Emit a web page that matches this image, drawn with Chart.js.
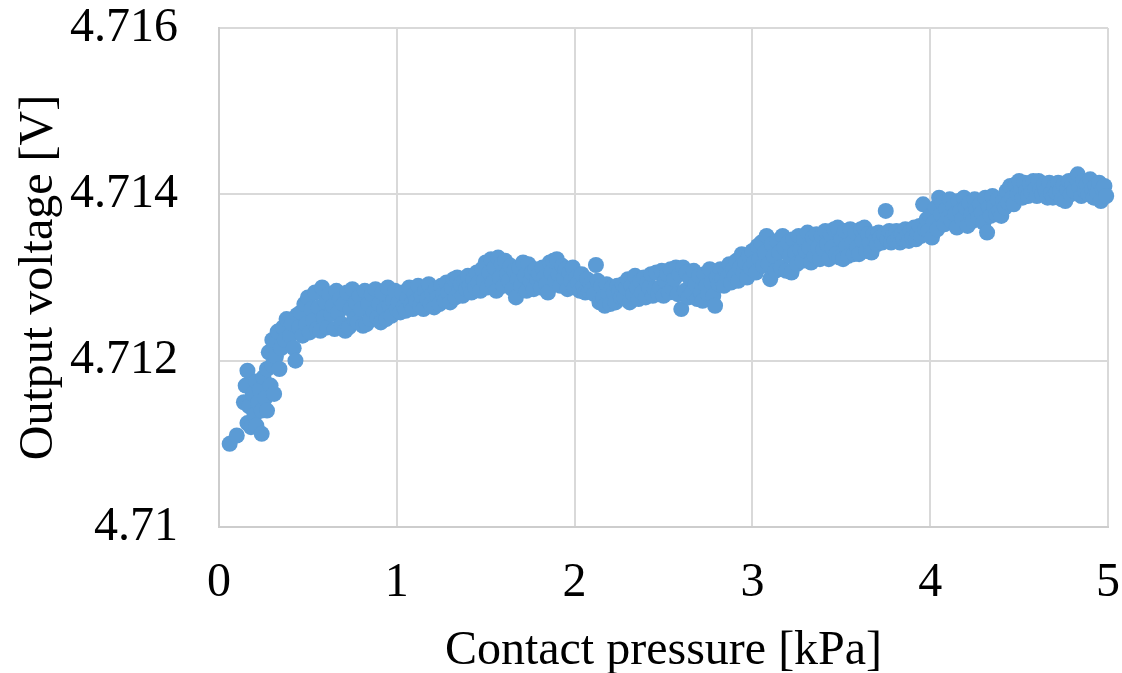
<!DOCTYPE html>
<html>
<head>
<meta charset="utf-8">
<script src="https://cdn.jsdelivr.net/npm/chart.js@4.4.0/dist/chart.umd.min.js"></script>
<style>
  html, body { margin: 0; padding: 0; background: #ffffff; }
  #wrap { width: 1122px; height: 673px; }
</style>
</head>
<body>
<div id="wrap"><canvas id="chart" width="1122" height="673"></canvas></div>
<script>
// Contact pressure [kPa] for each sample
const pressure = [
  0.06,0.10,0.14,0.15,0.16,0.16,0.17,0.18,0.19,0.20,
  0.21,0.21,0.22,0.23,0.24,0.24,0.25,0.26,0.27,0.27,
  0.28,0.29,0.30,0.30,0.31,0.32,0.33,0.34,0.35,0.36,
  0.37,0.38,0.40,0.41,0.42,0.43,0.44,0.45,0.46,0.47,
  0.48,0.49,0.50,0.51,0.52,0.53,0.54,0.55,0.56,0.57,
  0.58,0.59,0.60,0.61,0.62,0.63,0.64,0.65,0.66,0.67,
  0.68,0.69,0.70,0.71,0.72,0.73,0.74,0.75,0.76,0.77,
  0.78,0.79,0.80,0.81,0.82,0.83,0.84,0.85,0.86,0.87,
  0.88,0.89,0.90,0.91,0.92,0.93,0.94,0.95,0.96,0.97,
  0.98,0.99,1.00,1.01,1.02,1.03,1.04,1.05,1.06,1.07,
  1.08,1.09,1.10,1.11,1.12,1.13,1.14,1.15,1.16,1.17,
  1.18,1.19,1.20,1.21,1.22,1.23,1.24,1.25,1.26,1.27,
  1.28,1.29,1.30,1.31,1.32,1.33,1.34,1.35,1.36,1.37,
  1.38,1.39,1.40,1.41,1.42,1.43,1.44,1.45,1.46,1.47,
  1.48,1.49,1.50,1.51,1.52,1.53,1.54,1.55,1.56,1.57,
  1.58,1.59,1.60,1.61,1.62,1.63,1.64,1.65,1.66,1.67,
  1.68,1.69,1.70,1.71,1.72,1.73,1.74,1.75,1.76,1.77,
  1.78,1.79,1.80,1.81,1.82,1.83,1.84,1.85,1.86,1.87,
  1.88,1.89,1.90,1.91,1.92,1.93,1.94,1.95,1.96,1.97,
  1.98,1.99,2.00,2.01,2.02,2.03,2.04,2.05,2.06,2.07,
  2.08,2.09,2.10,2.11,2.12,2.13,2.14,2.15,2.16,2.17,
  2.18,2.19,2.20,2.21,2.22,2.23,2.24,2.25,2.26,2.27,
  2.28,2.29,2.30,2.31,2.32,2.33,2.34,2.35,2.36,2.37,
  2.38,2.39,2.40,2.41,2.42,2.43,2.44,2.45,2.46,2.47,
  2.48,2.49,2.50,2.51,2.52,2.53,2.54,2.55,2.56,2.57,
  2.58,2.59,2.60,2.61,2.62,2.63,2.64,2.65,2.66,2.67,
  2.68,2.69,2.70,2.71,2.72,2.73,2.74,2.75,2.76,2.77,
  2.78,2.79,2.80,2.81,2.82,2.83,2.84,2.85,2.86,2.87,
  2.88,2.89,2.90,2.91,2.92,2.93,2.94,2.95,2.96,2.97,
  2.98,2.99,3.00,3.01,3.02,3.03,3.04,3.05,3.06,3.07,
  3.08,3.09,3.10,3.11,3.12,3.13,3.14,3.15,3.16,3.17,
  3.18,3.19,3.20,3.21,3.22,3.23,3.24,3.25,3.26,3.27,
  3.28,3.29,3.30,3.31,3.32,3.33,3.34,3.35,3.36,3.37,
  3.38,3.39,3.40,3.41,3.42,3.43,3.44,3.45,3.46,3.47,
  3.48,3.49,3.50,3.51,3.52,3.53,3.54,3.55,3.56,3.57,
  3.58,3.59,3.60,3.61,3.62,3.63,3.64,3.65,3.66,3.67,
  3.68,3.69,3.70,3.71,3.72,3.73,3.74,3.75,3.76,3.77,
  3.78,3.79,3.80,3.81,3.82,3.83,3.84,3.85,3.86,3.87,
  3.88,3.89,3.90,3.91,3.92,3.93,3.94,3.95,3.96,3.97,
  3.98,3.99,4.00,4.01,4.02,4.03,4.04,4.05,4.06,4.07,
  4.08,4.09,4.10,4.11,4.12,4.13,4.14,4.15,4.16,4.17,
  4.18,4.19,4.20,4.21,4.22,4.23,4.24,4.25,4.26,4.27,
  4.28,4.29,4.30,4.31,4.32,4.33,4.34,4.35,4.36,4.37,
  4.38,4.39,4.40,4.41,4.42,4.43,4.44,4.45,4.46,4.47,
  4.48,4.49,4.50,4.51,4.52,4.53,4.54,4.55,4.56,4.57,
  4.58,4.59,4.60,4.61,4.62,4.63,4.64,4.65,4.66,4.67,
  4.68,4.69,4.70,4.71,4.72,4.73,4.74,4.75,4.76,4.77,
  4.78,4.79,4.80,4.81,4.82,4.83,4.84,4.85,4.86,4.87,
  4.88,4.89,4.90,4.91,4.92,4.93,4.94,4.95,4.96,4.97,
  4.98,4.99
];

// Output voltage [V] measured at each pressure above
const voltage = [
  4.71100,4.71110,4.71150,4.71170,4.71125,4.71188,4.71145,4.71120,4.71160,4.71135,
  4.71122,4.71175,4.71150,4.71165,4.71112,4.71140,4.71180,4.71155,4.71190,4.71140,
  4.71210,4.71170,4.71195,4.71225,4.71160,4.71205,4.71235,4.71190,4.71215,4.71240,
  4.71225,4.71250,4.71230,4.71245,4.71215,4.71200,4.71255,4.71240,4.71258,4.71230,
  4.71268,4.71244,4.71276,4.71234,4.71262,4.71248,4.71282,4.71238,4.71264,4.71236,
  4.71288,4.71252,4.71270,4.71240,4.71280,4.71256,4.71266,4.71238,4.71284,4.71258,
  4.71274,4.71244,4.71268,4.71236,4.71282,4.71240,4.71262,4.71286,4.71250,4.71270,
  4.71246,4.71278,4.71262,4.71242,4.71284,4.71244,4.71268,4.71250,4.71280,4.71258,
  4.71286,4.71252,4.71268,4.71246,4.71282,4.71262,4.71250,4.71288,4.71266,4.71254,
  4.71272,4.71284,4.71262,4.71270,4.71258,4.71282,4.71265,4.71260,4.71276,4.71288,
  4.71268,4.71262,4.71280,4.71272,4.71290,4.71266,4.71278,4.71262,4.71284,4.71274,
  4.71292,4.71268,4.71280,4.71264,4.71286,4.71276,4.71268,4.71290,4.71280,4.71272,
  4.71294,4.71282,4.71270,4.71288,4.71298,4.71276,4.71300,4.71284,4.71292,4.71278,
  4.71296,4.71286,4.71302,4.71290,4.71282,4.71298,4.71288,4.71306,4.71294,4.71284,
  4.71310,4.71296,4.71318,4.71288,4.71306,4.71322,4.71294,4.71312,4.71284,4.71324,
  4.71300,4.71316,4.71290,4.71320,4.71304,4.71296,4.71314,4.71286,4.71308,4.71276,
  4.71298,4.71312,4.71290,4.71318,4.71302,4.71284,4.71316,4.71296,4.71306,4.71286,
  4.71310,4.71298,4.71304,4.71288,4.71312,4.71300,4.71292,4.71282,4.71318,4.71306,
  4.71320,4.71296,4.71322,4.71304,4.71290,4.71314,4.71300,4.71310,4.71286,4.71306,
  4.71296,4.71312,4.71288,4.71300,4.71294,4.71284,4.71304,4.71290,4.71282,4.71298,
  4.71284,4.71292,4.71286,4.71280,4.71315,4.71296,4.71270,4.71290,4.71276,4.71266,
  4.71292,4.71280,4.71268,4.71288,4.71282,4.71270,4.71290,4.71284,4.71276,4.71292,
  4.71276,4.71288,4.71298,4.71270,4.71290,4.71280,4.71302,4.71288,4.71274,4.71296,
  4.71282,4.71300,4.71276,4.71294,4.71288,4.71304,4.71278,4.71286,4.71306,4.71280,
  4.71288,4.71308,4.71278,4.71296,4.71304,4.71282,4.71310,4.71286,4.71298,4.71312,
  4.71280,4.71304,4.71262,4.71312,4.71284,4.71306,4.71276,4.71298,4.71282,4.71308,
  4.71292,4.71274,4.71302,4.71282,4.71272,4.71304,4.71290,4.71280,4.71310,4.71294,
  4.71278,4.71266,4.71300,4.71292,4.71310,4.71298,4.71290,4.71308,4.71300,4.71316,
  4.71294,4.71310,4.71302,4.71320,4.71296,4.71312,4.71328,4.71306,4.71318,4.71300,
  4.71326,4.71312,4.71332,4.71318,4.71306,4.71338,4.71322,4.71342,4.71314,4.71330,
  4.71350,4.71316,4.71298,4.71340,4.71326,4.71308,4.71344,4.71330,4.71312,4.71350,
  4.71336,4.71308,4.71342,4.71326,4.71306,4.71346,4.71330,4.71316,4.71350,4.71334,
  4.71320,4.71346,4.71332,4.71354,4.71336,4.71318,4.71348,4.71326,4.71352,4.71336,
  4.71322,4.71350,4.71334,4.71356,4.71340,4.71322,4.71352,4.71336,4.71358,4.71328,
  4.71360,4.71324,4.71346,4.71322,4.71356,4.71338,4.71326,4.71358,4.71342,4.71328,
  4.71354,4.71336,4.71328,4.71358,4.71344,4.71360,4.71332,4.71352,4.71342,4.71330,
  4.71352,4.71344,4.71340,4.71354,4.71348,4.71342,4.71352,4.71380,4.71346,4.71356,
  4.71342,4.71350,4.71344,4.71356,4.71348,4.71342,4.71352,4.71346,4.71358,4.71350,
  4.71344,4.71356,4.71348,4.71360,4.71346,4.71354,4.71362,4.71350,4.71388,4.71358,
  4.71370,4.71356,4.71374,4.71348,4.71366,4.71384,4.71358,4.71396,4.71376,4.71390,
  4.71364,4.71382,4.71372,4.71394,4.71368,4.71386,4.71376,4.71360,4.71392,4.71380,
  4.71370,4.71396,4.71384,4.71362,4.71390,4.71376,4.71368,4.71394,4.71382,4.71372,
  4.71388,4.71378,4.71366,4.71396,4.71354,4.71384,4.71374,4.71398,4.71386,4.71376,
  4.71394,4.71380,4.71374,4.71392,4.71384,4.71404,4.71390,4.71410,4.71396,4.71388,
  4.71412,4.71400,4.71416,4.71404,4.71396,4.71414,4.71404,4.71398,4.71412,4.71402,
  4.71416,4.71406,4.71398,4.71416,4.71406,4.71400,4.71412,4.71404,4.71396,4.71414,
  4.71402,4.71396,4.71410,4.71402,4.71414,4.71404,4.71394,4.71412,4.71392,4.71406,
  4.71416,4.71400,4.71412,4.71404,4.71420,4.71424,4.71408,4.71398,4.71416,4.71404,
  4.71412,4.71400,4.71418,4.71406,4.71396,4.71410,4.71402,4.71414,4.71392,4.71406,
  4.71410,4.71398
];

// Axis ticks
const xTickValues = [0, 1, 2, 3, 4, 5];
const xTickLabels = ['0', '1', '2', '3', '4', '5'];
const yTickValues = [4.710, 4.712, 4.714, 4.716];
const yTickLabels = ['4.71', '4.712', '4.714', '4.716'];

const points = pressure.map((p, i) => ({ x: p, y: voltage[i] }));

const serif = 'Liberation Serif, "Times New Roman", serif';
const gridStyle = { color: '#d9d9d9', lineWidth: 2, drawTicks: false };
const borderStyle = { color: '#cdcdcd', width: 2 };

new Chart(document.getElementById('chart').getContext('2d'), {
  type: 'scatter',
  data: {
    datasets: [{
      data: points,
      backgroundColor: '#5b9bd5',
      borderColor: '#5b9bd5',
      borderWidth: 0,
      pointRadius: 8,
      pointHoverRadius: 8,
      clip: false
    }]
  },
  options: {
    responsive: false,
    animation: false,
    devicePixelRatio: 1,
    layout: { padding: { top: 28, right: 14, bottom: 0, left: 0 } },
    plugins: { legend: { display: false }, tooltip: { enabled: false } },
    scales: {
      x: {
        type: 'linear',
        min: 0,
        max: 5,
        afterBuildTicks: s => { s.ticks = xTickValues.map(v => ({ value: v })); },
        afterFit: s => {
          s.height = 146;
          s.paddingLeft = 0;
          s.paddingRight = 0;
        },
        grid: gridStyle,
        border: borderStyle,
        ticks: {
          padding: 28,
          color: '#000',
          font: { family: serif, size: 48 },
          maxRotation: 0,
          callback: (v, i) => xTickLabels[i]
        },
        title: {
          display: true,
          text: 'Contact pressure [kPa]',
          color: '#000',
          font: { family: serif, size: 48, lineHeight: 0.9 },
          padding: { top: 0, bottom: 0 }
        }
      },
      y: {
        type: 'linear',
        min: 4.710,
        max: 4.716,
        afterBuildTicks: s => { s.ticks = yTickValues.map(v => ({ value: v })); },
        afterFit: s => {
          s.width = 219;
          s.paddingTop = 0;
          s.paddingBottom = 0;
        },
        grid: gridStyle,
        border: borderStyle,
        ticks: {
          padding: 41,
          color: '#000',
          font: { family: serif, size: 48 },
          callback: (v, i) => yTickLabels[i]
        },
        title: {
          display: true,
          text: 'Output voltage [V]',
          color: '#000',
          font: { family: serif, size: 48, lineHeight: 1 },
          padding: { top: 15, bottom: 0 }
        }
      }
    }
  }
});
</script>
</body>
</html>
